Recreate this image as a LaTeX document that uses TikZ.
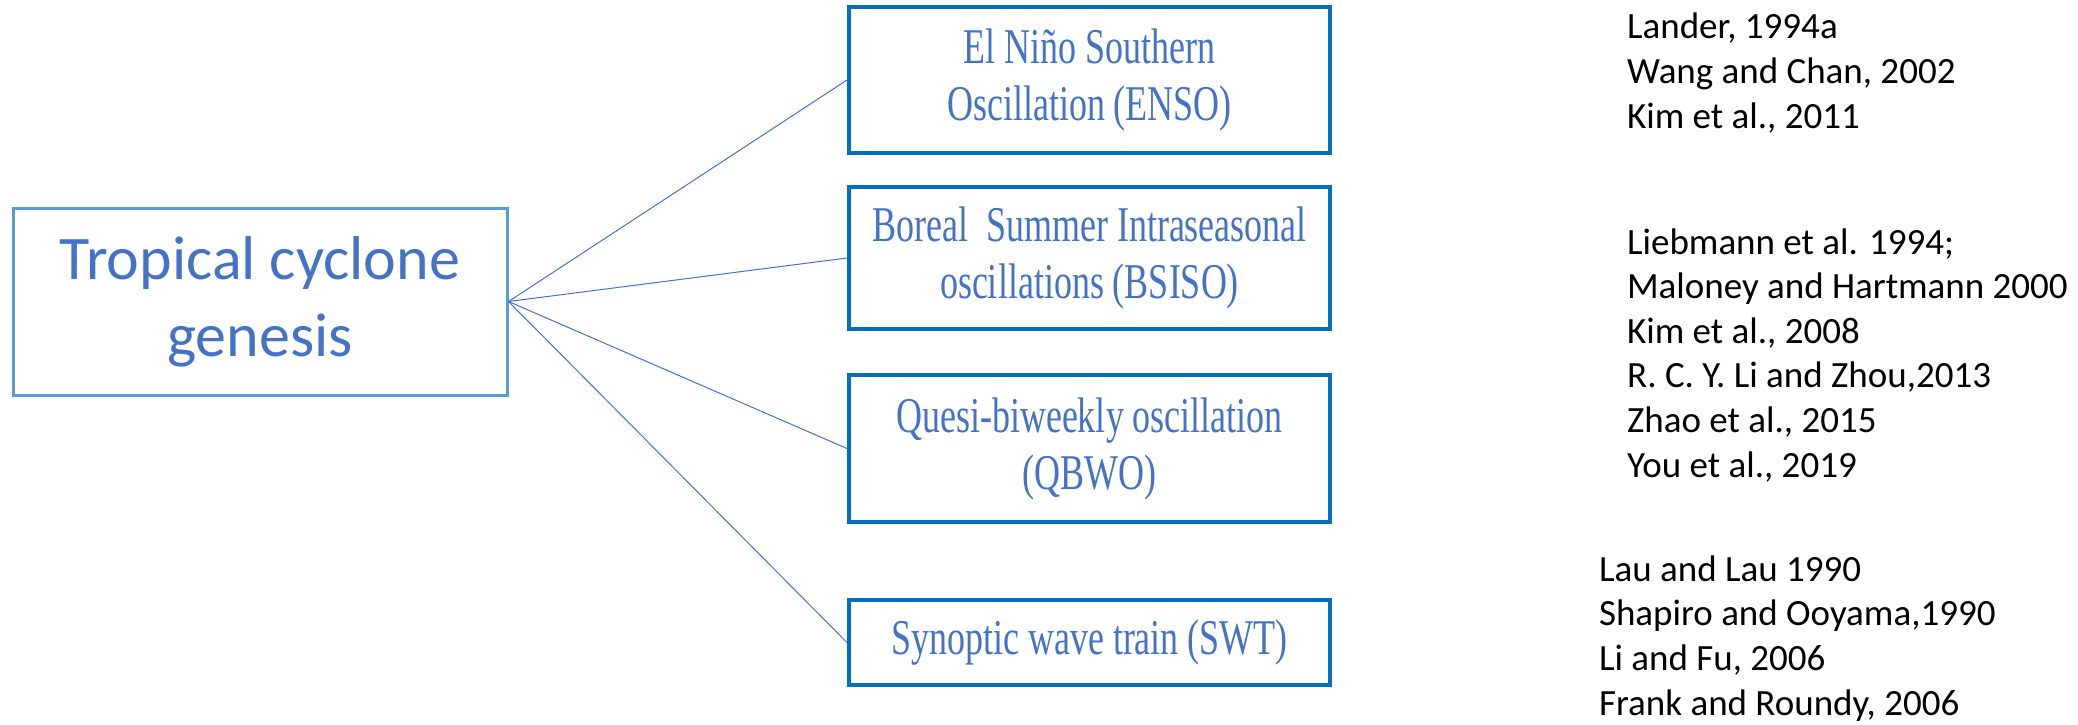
\documentclass[tikz,border=0pt]{standalone}
\usepackage{fontspec}
\setmainfont{Carlito}
\newfontfamily\boxfont[FakeStretch=0.72]{Liberation Serif}
\usepackage{tikz}
\definecolor{mainblue}{HTML}{5B9BD5}
\definecolor{boxblue}{HTML}{0070C0}
\definecolor{textblue}{HTML}{4472C4}
\tikzset{%
  genbox/.style={draw=mainblue, line width=1.5pt, minimum width=247pt, minimum height=93.5pt,
    text=textblue, align=center, font=\fontsize{31}{38.5}\selectfont},
  modebox/.style={draw=boxblue, line width=2pt, minimum width=240.5pt,
    text=textblue, align=center, font=\boxfont\fontsize{25}{28.5}\selectfont},
  reflist/.style={anchor=base west, align=left, font=\fontsize{18.5}{22.3}\selectfont},
  link/.style={textblue, line width=0.5pt}
}

\begin{document}
\begin{tikzpicture}[x=0.5pt,y=-0.5pt]
\useasboundingbox (0,0) rectangle (2078,724);
\node[genbox] (tcg) at (260,301.5) {Tropical cyclone\\genesis};
\node[modebox, minimum height=73pt] (enso) at (1089.5,80) {El Niño Southern\\Oscillation (ENSO)};
\node[modebox, minimum height=71pt] (bsiso) at (1089.5,258) {Boreal\ \ Summer Intraseasonal\\oscillations (BSISO)};
\node[modebox, minimum height=73.5pt] (qbwo) at (1089.5,448.5) {Quesi-biweekly oscillation\\(QBWO)};
\node[modebox, minimum height=42.5pt] (swt) at (1089.5,642.5) {Synoptic wave train (SWT)};
% references (anchored at the last line)
\node[reflist] (refenso) at (1620,128) {Lander, 1994a\\Wang and Chan, 2002\\Kim et al., 2011};
\node[reflist] (refbsiso) at (1620,477) {Liebmann et al. 1994;\\Maloney and Hartmann 2000\\Kim et al., 2008\\R. C. Y. Li and Zhou,2013\\Zhao et al., 2015\\You et al., 2019};
\node[reflist] (refswt) at (1592,715) {Lau and Lau 1990\\Shapiro and Ooyama,1990\\Li and Fu, 2006\\Frank and Roundy, 2006};
\foreach \m in {enso,bsiso,qbwo,swt} \draw[link] (tcg.east) -- (\m.west);
\end{tikzpicture}
\end{document}
